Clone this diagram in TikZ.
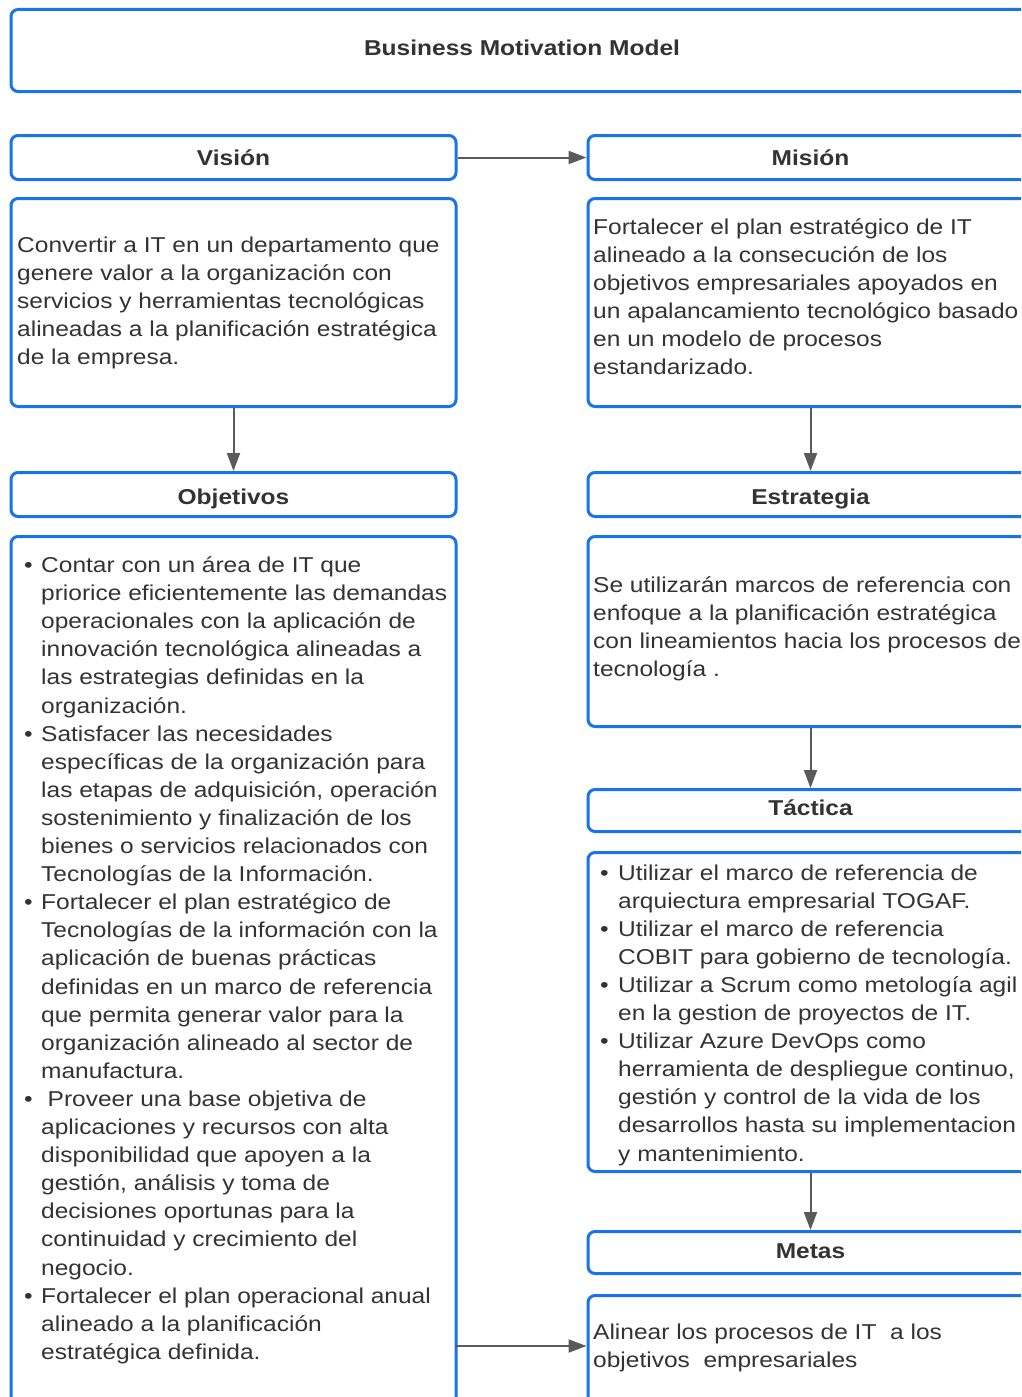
\documentclass[tikz,border=0pt]{standalone}
\usepackage{fontspec}
\setmainfont[FakeStretch=1.14]{Liberation Sans}
\usetikzlibrary{arrows.meta}
\definecolor{bmblue}{RGB}{26,115,232}
\definecolor{bmtext}{RGB}{51,51,51}
\definecolor{bmarrow}{RGB}{90,90,90}
\newcommand{\bmfont}{\fontsize{21.5}{28.1}\selectfont}
\newcommand{\bl}{\makebox[17pt][l]{•}}
\begin{document}
\begin{tikzpicture}[x=1pt,y=-1pt,
  frame/.style={draw=bmblue, line width=3pt, rounded corners=7pt, fill=white,
    anchor=north west, inner sep=0pt, minimum width=445pt},
  header/.style={frame, minimum height=44pt, text=bmtext, font=\bmfont\bfseries,
    text height=16pt, text depth=0pt},
  body/.style={anchor=base west, inner sep=0pt, text=bmtext, font=\bmfont},
  link/.style={draw=bmarrow, line width=2pt, -{Triangle[length=18pt,width=13pt]}}]
\path[use as bounding box] (0,0) rectangle (1021,1397);
\clip (0,0) rectangle (1021,1397);
\fill[white] (0,0) rectangle (1021,1397);

% title
\node[header, minimum width=1022pt, minimum height=82pt]
  (title) at (9.5,8) {\raisebox{3pt}{Business Motivation Model}};

% left column
\node[header] (vis) at (9.5,134) {Visión};
\node[frame, minimum height=208pt] (visbox) at (9.5,197) {};
\node[body] (vistxt) at (17,252) {\begin{tabular}[t]{@{}l@{}}
Convertir a IT en un departamento que\\
genere valor a la organización con\\
servicios y herramientas tecnológicas\\
alineadas a la planificación estratégica\\
de la empresa.
\end{tabular}};

\node[header] (obj) at (9.5,471) {\raisebox{-2pt}{Objetivos}};
\node[frame, minimum height=900pt] (objbox) at (9.5,535) {};
\node[body] (objtxt) at (24,572.5) {\begin{tabular}[t]{@{}l@{}l@{}}
\bl&Contar con un área de IT que\\
&priorice eficientemente las demandas\\
&operacionales con la aplicación de\\
&innovación tecnológica alineadas a\\
&las estrategias definidas en la\\
&organización.\\
\bl&Satisfacer las necesidades\\
&específicas de la organización para\\
&las etapas de adquisición, operación\\
&sostenimiento y finalización de los\\
&bienes o servicios relacionados con\\
&Tecnologías de la Información.\\
\bl&Fortalecer el plan estratégico de\\
&Tecnologías de la información con la\\
&aplicación de buenas prácticas\\
&definidas en un marco de referencia\\
&que permita generar valor para la\\
&organización alineado al sector de\\
&manufactura.\\
\bl&\hspace{6.5pt}Proveer una base objetiva de\\
&aplicaciones y recursos con alta\\
&disponibilidad que apoyen a la\\
&gestión, análisis y toma de\\
&decisiones oportunas para la\\
&continuidad y crecimiento del\\
&negocio.\\
\bl&Fortalecer el plan operacional anual\\
&alineado a la planificación\\
&estratégica definida.
\end{tabular}};

% right column
\node[header] (mis) at (586.5,134) {Misión};
\node[frame, minimum height=208pt] (misbox) at (586.5,197) {};
\node[body] (mistxt) at (593,234) {\begin{tabular}[t]{@{}l@{}}
Fortalecer el plan estratégico de IT\\
alineado a la consecución de los\\
objetivos empresariales apoyados en\\
un apalancamiento tecnológico basado\\
en un modelo de procesos\\
estandarizado.
\end{tabular}};

\node[header] (est) at (586.5,471) {\raisebox{-2pt}{Estrategia}};
\node[frame, minimum height=190pt] (estbox) at (586.5,535) {};
\node[body] (esttxt) at (593,592) {\begin{tabular}[t]{@{}l@{}}
Se utilizarán marcos de referencia con\\
enfoque a la planificación estratégica\\
con lineamientos hacia los procesos de\\
tecnología .
\end{tabular}};

\node[header, minimum height=42pt] (tac) at (586.5,788) {\raisebox{3pt}{Táctica}};
\node[frame, minimum height=319pt] (tacbox) at (586.5,851) {};
\node[body] (tactxt) at (600,880) {\begin{tabular}[t]{@{}l@{}l@{}}
\makebox[18pt][l]{•}&Utilizar el marco de referencia de\\
&arquiectura empresarial TOGAF.\\
\makebox[18pt][l]{•}&Utilizar el marco de referencia\\
&COBIT para gobierno de tecnología.\\
\makebox[18pt][l]{•}&Utilizar a Scrum como metología agil\\
&en la gestion de proyectos de IT.\\
\makebox[18pt][l]{•}&Utilizar Azure DevOps como\\
&herramienta de despliegue continuo,\\
&gestión y control de la vida de los\\
&desarrollos hasta su implementacion\\
&y mantenimiento.
\end{tabular}};

\node[header, minimum height=42pt] (met) at (586.5,1230) {\raisebox{2pt}{Metas}};
\node[frame, minimum height=200pt] (metbox) at (586.5,1294) {};
\node[body] (mettxt) at (593,1339) {\begin{tabular}[t]{@{}l@{}}
Alinear los procesos de IT\ \ a los\\
objetivos\ \ empresariales
\end{tabular}};

% connectors
\coordinate (objout) at (454.5,1346);
\draw[link] (vis.east) -- (mis.west);
\draw[link] (visbox.south) -- (obj.north);
\draw[link] (misbox.south) -- (est.north);
\draw[link] (estbox.south) -- (tac.north);
\draw[link] (tacbox.south) -- (met.north);
\draw[link] (objout) -- (objout -| metbox.west);
\end{tikzpicture}
\end{document}
